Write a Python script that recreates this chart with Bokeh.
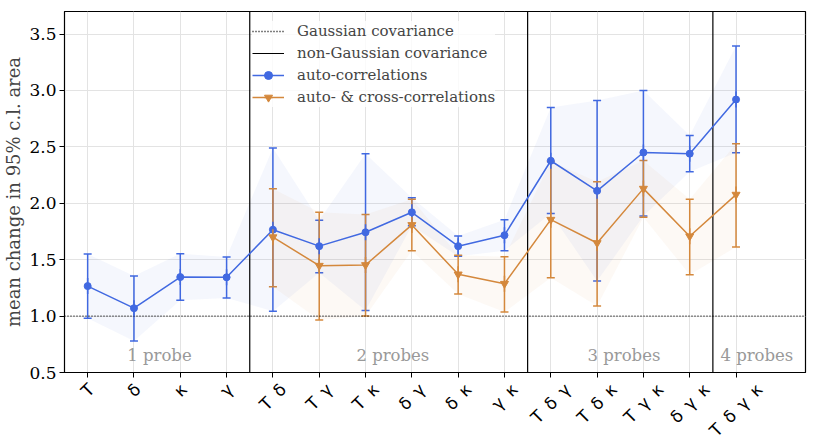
import math
from bokeh.plotting import figure
from bokeh.models import (ColumnDataSource, Whisker, TeeHead, FixedTicker, Legend,
                          LegendItem, Range1d, PrintfTickFormatter)
from bokeh.core.properties import value
from bokeh.embed import file_html
from bokeh.resources import INLINE

# ---------------- data ----------------
labels = ["T", "δ", "κ", "γ", "T δ", "T γ", "T κ", "δ γ", "δ κ", "γ κ",
          "T δ γ", "T δ κ", "T γ κ", "δ γ κ", "T δ γ κ"]
idx = list(range(len(labels)))

auto_mean = [1.266, 1.07, 1.346, 1.344, 1.766, 1.62, 1.743, 1.92, 1.62, 1.717,
             2.377, 2.11, 2.45, 2.44, 2.92]
auto_upper = [1.55, 1.355, 1.553, 1.524, 2.49, 1.85, 2.44, 2.05, 1.71, 1.855,
              2.85, 2.91, 3.0, 2.60, 3.395]
auto_lower = [0.98, 0.78, 1.14, 1.16, 1.044, 1.385, 1.05, 1.80, 1.53, 1.58,
              1.91, 1.31, 1.888, 2.28, 2.447]

cross_idx = list(range(4, 15))
cross_mean = [1.70, 1.447, 1.453, 1.808, 1.37, 1.287, 1.855, 1.648, 2.13, 1.708, 2.077]
cross_upper = [2.128, 1.92, 1.90, 2.036, 1.54, 1.527, 2.37, 2.19, 2.38, 2.036, 2.527]
cross_lower = [1.26, 0.965, 1.0, 1.58, 1.195, 1.036, 1.34, 1.09, 1.876, 1.367, 1.613]

group_bounds = [3.5, 9.5, 13.5]
group_names = ["1 probe", "2 probes", "3 probes", "4 probes"]
group_label_x = [1.55, 6.59, 11.58, 14.45]
group_label_y = [0.655, 0.655, 0.655, 0.655]

y_ticks = [0.5, 1.0, 1.5, 2.0, 2.5, 3.0, 3.5]
gaussian_level = 1.0

# ---------------- styling ----------------
BLUE = "#4169e1"
ORANGE = "#d4883c"
SERIF = "DejaVu Serif"
SP = "\u2002"

X0, X1 = -0.5, 15.5
Y0, Y1 = 0.5, 3.7
FRAME_W, FRAME_H = 741, 361
PX_PER_X = FRAME_W / (X1 - X0)

p = figure(frame_width=FRAME_W, frame_height=FRAME_H, output_backend="svg", toolbar_location=None,
           x_range=Range1d(X0, X1), y_range=Range1d(Y0, Y1),
           min_border_left=64, min_border_right=2, min_border_top=11, min_border_bottom=70)
p.background_fill_color = "white"
p.outline_line_color = "black"
p.outline_line_width = 1.2

p.xgrid.grid_line_color = "#e3e3e3"
p.ygrid.grid_line_color = "#e3e3e3"
p.xgrid.ticker = FixedTicker(ticks=idx)

# x tick labels: Bokeh right-aligns rotated labels at their anchor; shift the anchor by
# half the (rotated) text width so that each label is centred under its tick mark.
FS = 17
label_pos = []
overrides = {}
for i, lab in zip(idx, labels):
    parts = lab.split(" ")
    w = len(parts) * 0.6 * FS + (len(parts) - 1) * 0.5 * FS
    shift = (w / 2) * math.cos(math.pi / 4) / PX_PER_X
    pos = round(i + shift, 4)
    label_pos.append(pos)
    overrides[pos] = SP.join(parts)

p.xaxis.ticker = FixedTicker(ticks=label_pos, minor_ticks=idx)
p.xaxis.major_label_overrides = overrides
p.xaxis.major_label_orientation = math.pi / 4
p.xaxis.major_label_text_font = "DejaVu Sans"
p.xaxis.major_label_text_font_size = f"{FS}px"
p.xaxis.major_label_text_color = "black"
p.xaxis.major_label_standoff = 9
p.xaxis.major_tick_line_color = None
p.xaxis.major_tick_out = 0
p.xaxis.major_tick_in = 0
p.xaxis.minor_tick_line_color = "black"
p.xaxis.minor_tick_out = 5
p.xaxis.minor_tick_in = 0
p.xaxis.axis_line_color = "black"

p.yaxis.ticker = FixedTicker(ticks=y_ticks)
p.yaxis.formatter = PrintfTickFormatter(format="%.1f")
p.yaxis.major_label_text_font = SERIF
p.yaxis.major_label_text_font_size = "17px"
p.yaxis.major_label_text_color = "black"
p.yaxis.major_label_standoff = 3
p.yaxis.axis_label = "mean change in 95% c.l. area"
p.yaxis.axis_label_text_font = SERIF
p.yaxis.axis_label_text_font_style = "normal"
p.yaxis.axis_label_text_font_size = "18px"
p.yaxis.axis_label_standoff = 2
p.yaxis.minor_tick_line_color = None
p.yaxis.major_tick_out = 5
p.yaxis.major_tick_in = 0
p.yaxis.axis_line_color = "black"
p.yaxis.major_tick_line_color = "black"

# bands
p.varea(x=idx, y1=auto_lower, y2=auto_upper, fill_color=BLUE, fill_alpha=0.05)
p.varea(x=cross_idx, y1=cross_lower, y2=cross_upper, fill_color=ORANGE, fill_alpha=0.05)

# reference lines
gauss = p.line(x=[X0, X1], y=[gaussian_level, gaussian_level], line_color="black",
               line_dash="1 2", line_width=1.3)
vl = p.segment(x0=group_bounds, x1=group_bounds, y0=[Y0] * 3, y1=[Y1] * 3,
               line_color="black", line_width=1.2)

# auto-correlations
src_a = ColumnDataSource(dict(x=idx, y=auto_mean, lo=auto_lower, hi=auto_upper))
wa = Whisker(source=src_a, base="x", upper="hi", lower="lo", line_color=BLUE, line_width=1.5,
             upper_head=TeeHead(size=8, line_color=BLUE, line_width=1.5),
             lower_head=TeeHead(size=8, line_color=BLUE, line_width=1.5))
p.add_layout(wa)
ea = p.scatter("x", "y", source=src_a, marker="dash", angle=math.pi / 2, size=16,
               line_color=BLUE, line_width=1.5)
la = p.line("x", "y", source=src_a, line_color=BLUE, line_width=1.5)
ma = p.scatter("x", "y", source=src_a, marker="circle", size=7, fill_color=BLUE, line_color=BLUE)

# auto & cross
src_c = ColumnDataSource(dict(x=cross_idx, y=cross_mean, lo=cross_lower, hi=cross_upper))
wc = Whisker(source=src_c, base="x", upper="hi", lower="lo", line_color=ORANGE, line_width=1.5,
             upper_head=TeeHead(size=8, line_color=ORANGE, line_width=1.5),
             lower_head=TeeHead(size=8, line_color=ORANGE, line_width=1.5))
p.add_layout(wc)
ec = p.scatter("x", "y", source=src_c, marker="dash", angle=math.pi / 2, size=16,
               line_color=ORANGE, line_width=1.5)
lc = p.line("x", "y", source=src_c, line_color=ORANGE, line_width=1.5)
mc = p.scatter("x", "y", source=src_c, marker="inverted_triangle", size=8,
               fill_color=ORANGE, line_color=ORANGE)

# group labels
p.text(x=group_label_x, y=group_label_y, text=group_names, text_font=value(SERIF),
       text_font_size="16.5px", text_color="#999999", text_align="center", text_baseline="middle")

legend = Legend(items=[
    LegendItem(label="Gaussian covariance", renderers=[gauss]),
    LegendItem(label="non-Gaussian covariance", renderers=[vl]),
    LegendItem(label="auto-correlations", renderers=[la, ea, ma]),
    LegendItem(label="auto- & cross-correlations", renderers=[lc, ec, mc]),
], location=(188, 265))
legend.label_text_font = SERIF
legend.label_text_font_size = "15px"
legend.glyph_width = 32
legend.glyph_height = 20
legend.label_height = 20
legend.spacing = 2
legend.padding = 8
legend.label_standoff = 13
legend.border_line_color = None
legend.background_fill_color = "white"
legend.background_fill_alpha = 0.8
p.add_layout(legend)

open("out.html", "w").write(file_html(p, INLINE))
